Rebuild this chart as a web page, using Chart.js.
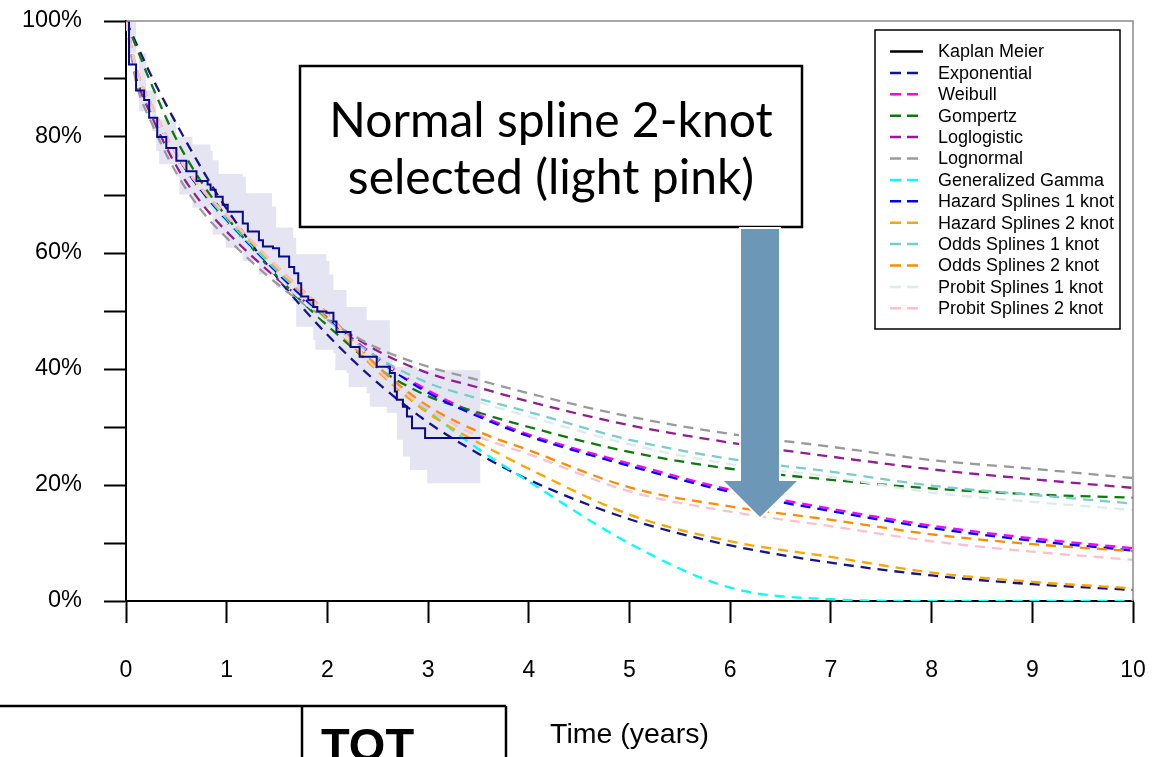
<!DOCTYPE html>
<html>
<head>
<meta charset="utf-8">
<script src="https://cdn.jsdelivr.net/npm/chart.js@4.4.1/dist/chart.umd.min.js"></script>
<style>
  html, body { margin: 0; padding: 0; background: #fff; overflow: hidden; }
  canvas { display: block; }
</style>
</head>
<body>
<canvas id="survChart" width="1165" height="757"></canvas>
<script>
// Time grid (years) for the fitted curves
const timePoints = [0, 0.1, 0.25, 0.5, 0.75, 1, 1.5, 2, 2.5, 3, 3.5, 4, 5, 6, 7, 8, 9, 10];

// Fitted survival (%)
const exponential = [100, 96.2, 90.6, 82.3, 74.6, 67.6, 55.8, 45.9, 37.6, 30.8, 25.4, 20.9, 14.1, 9.6, 6.6, 4.4, 2.9, 1.9];
const weibull     = [100, 91.5, 85.0, 76.6, 70.6, 65.5, 56.6, 48.9, 41.9, 36.3, 32.1, 28.7, 23.7, 19.2, 15.9, 13.0, 10.8, 9.1];
const gompertz    = [100, 95.6, 89.2, 79.6, 72.2, 66.2, 56.0, 47.5, 40.2, 35.3, 32.5, 30.0, 25.7, 22.8, 20.9, 19.4, 18.4, 17.8];
const loglogistic = [100, 90.5, 83.8, 75.0, 68.6, 63.7, 55.6, 48.7, 43.1, 39.3, 36.8, 34.4, 30.3, 27.3, 24.9, 22.7, 21.0, 19.5];
const lognormal   = [100, 89.5, 82.6, 73.8, 67.3, 62.6, 54.7, 48.5, 43.6, 40.4, 38.1, 35.8, 31.8, 28.8, 26.6, 24.3, 22.8, 21.2];
const genGamma    = [100, 91.8, 85.2, 76.8, 70.6, 65.6, 56.9, 48.8, 40.5, 32.8, 26.2, 20.6, 9.9, 2.3, 0.3, 0, 0, 0];
const hazard1     = [100, 91.5, 85.0, 76.4, 70.4, 65.3, 56.4, 48.7, 41.6, 35.9, 31.8, 28.4, 23.3, 18.8, 15.5, 12.6, 10.4, 8.7];
const hazard2     = [100, 92.0, 85.5, 77.0, 71.0, 66.3, 57.3, 48.6, 39.6, 32.4, 27.3, 22.8, 14.9, 10.3, 7.6, 4.9, 3.3, 2.2];
const odds1       = [100, 91.6, 85.0, 76.2, 70.1, 65.1, 56.1, 48.2, 42.0, 37.6, 34.9, 32.6, 27.8, 24.5, 22.3, 19.9, 18.3, 16.8];
const odds2       = [100, 92.0, 85.6, 77.1, 71.1, 66.5, 57.6, 49.6, 40.4, 33.6, 29.2, 26.0, 19.6, 16.3, 14.0, 11.5, 9.8, 8.6];
const probit1     = [100, 91.6, 85.0, 76.2, 70.0, 65.0, 56.0, 48.0, 41.5, 37.0, 34.3, 31.8, 27.0, 23.6, 21.4, 18.7, 17.1, 15.7];
const probit2     = [100, 92.0, 85.6, 77.1, 71.1, 66.5, 57.6, 49.4, 39.9, 33.1, 28.4, 25.3, 18.9, 15.4, 12.9, 10.3, 8.5, 7.1];

// Kaplan Meier steps (time, survival %)
const kmTimes = [0, 0.03, 0.10, 0.18, 0.23, 0.31, 0.40, 0.50, 0.60, 0.70, 0.81, 0.84, 0.89, 0.96, 1.01, 1.16, 1.21, 1.32, 1.36, 1.46, 1.52, 1.62, 1.67, 1.71, 1.74, 1.81, 1.86, 1.90, 1.99, 2.06, 2.09, 2.23, 2.32, 2.49, 2.62, 2.67, 2.69, 2.75, 2.79, 2.84, 2.97, 3.52];
const kmSurv  = [100, 92.5, 88.0, 86.4, 83.3, 80.0, 78.1, 75.9, 74.1, 72.4, 71.8, 70.9, 69.7, 68.3, 67.1, 65.1, 63.7, 62.2, 61.1, 60.8, 59.4, 57.6, 56.5, 54.8, 52.5, 51.9, 50.7, 49.9, 49.7, 48.2, 46.4, 43.8, 42.1, 40.4, 39.3, 36.1, 34.7, 33.5, 31.8, 29.8, 28.1, 28.1];

// Confidence band around KM
const ciUpperTimes = [0, 0.10, 0.20, 0.30, 0.50, 0.66, 0.84, 0.86, 0.92, 1.16, 1.19, 1.45, 1.49, 1.66, 1.69, 1.99, 2.02, 2.06, 2.19, 2.39, 2.62, 2.65, 2.89, 3.52];
const ciUpper      = [100, 94.4, 88, 83, 80, 78.7, 77.6, 76, 73.6, 73.2, 70.3, 68, 64.4, 62.6, 59.8, 58.6, 56.3, 53.6, 50.7, 48.4, 42.7, 40.4, 39.8, 39.8];
const ciLowerTimes = [0, 0.03, 0.13, 0.26, 0.30, 0.33, 0.50, 0.53, 0.66, 0.86, 0.99, 1.16, 1.32, 1.49, 1.65, 1.69, 1.86, 1.88, 2.06, 2.08, 2.19, 2.21, 2.39, 2.42, 2.59, 2.69, 2.75, 2.82, 2.99, 3.52];
const ciLower      = [100, 94.4, 84.5, 81, 77.6, 75.3, 73.2, 70.1, 67.8, 63.2, 60.9, 58.6, 56.3, 54, 51.7, 47.3, 45, 43.3, 42.7, 39.8, 39.3, 36.9, 35.8, 33.5, 32.4, 27.8, 24.9, 22.6, 20.3, 20];

const seriesNames = ['Kaplan Meier', 'Exponential', 'Weibull', 'Gompertz', 'Loglogistic', 'Lognormal',
  'Generalized Gamma', 'Hazard Splines 1 knot', 'Hazard Splines 2 knot', 'Odds Splines 1 knot',
  'Odds Splines 2 knot', 'Probit Splines 1 knot', 'Probit Splines 2 knot'];
const seriesValues = [null, exponential, weibull, gompertz, loglogistic, lognormal, genGamma,
  hazard1, hazard2, odds1, odds2, probit1, probit2];
const seriesColors = ['#000000', '#14148c', '#ff00ff', '#0f780f', '#941c94', '#9a9a9a', '#00ffff',
  '#0000ff', '#ffa500', '#79cdcd', '#ff8c00', '#dcebeb', '#ffc0cb'];

const FONT = '"Liberation Sans", Arial, sans-serif';

function toPoints(xs, ys) {
  return xs.map((x, i) => ({ x: x, y: ys[i] }));
}

const datasets = [];
datasets.push({
  label: 'Kaplan Meier',
  data: toPoints(kmTimes, kmSurv),
  borderColor: '#0a0a8a',
  borderWidth: 2,
  stepped: true,
  pointRadius: 0,
  fill: false
});
for (let i = seriesValues.length - 1; i >= 1; i--) {
  datasets.push({
    label: seriesNames[i],
    data: toPoints(timePoints, seriesValues[i]),
    borderColor: seriesColors[i],
    borderWidth: 2.3,
    borderDash: [10, 7],
    pointRadius: 0,
    cubicInterpolationMode: 'monotone',
    fill: false
  });
}
datasets.push({
  label: 'CI upper',
  data: toPoints(ciUpperTimes, ciUpper),
  borderWidth: 0,
  borderColor: 'rgba(0,0,0,0)',
  backgroundColor: '#e4e4f3',
  stepped: true,
  pointRadius: 0,
  fill: '+1'
});
datasets.push({
  label: 'CI lower',
  data: toPoints(ciLowerTimes, ciLower),
  borderWidth: 0,
  borderColor: 'rgba(0,0,0,0)',
  stepped: true,
  pointRadius: 0,
  fill: false
});

// Boxes, arrow and legend drawn on top of the plot
const decorations = {
  id: 'decorations',
  afterDraw(chart) {
    const ctx = chart.ctx;
    const a = chart.chartArea;
    ctx.save();

    // gray frame top and right
    ctx.strokeStyle = '#8c8c8c';
    ctx.lineWidth = 1.5;
    ctx.beginPath();
    ctx.moveTo(a.left, a.top);
    ctx.lineTo(a.right, a.top);
    ctx.lineTo(a.right, a.bottom);
    ctx.stroke();

    // legend
    ctx.fillStyle = '#fff';
    ctx.fillRect(875, 30, 245, 299);
    ctx.strokeStyle = '#000';
    ctx.lineWidth = 1.5;
    ctx.strokeRect(875, 30, 245, 299);
    ctx.font = '18px ' + FONT;
    ctx.textBaseline = 'middle';
    ctx.textAlign = 'left';
    seriesNames.forEach((name, i) => {
      const y = 51.5 + i * 21.4;
      ctx.strokeStyle = seriesColors[i];
      ctx.lineWidth = 2.5;
      ctx.setLineDash(i === 0 ? [] : [11, 6]);
      ctx.beginPath();
      ctx.moveTo(890, y);
      ctx.lineTo(i === 0 ? 923 : 919, y);
      ctx.stroke();
      ctx.setLineDash([]);
      ctx.fillStyle = '#000';
      ctx.fillText(name, 938, y + 1);
    });

    // annotation box
    ctx.fillStyle = '#fff';
    ctx.fillRect(300, 66, 502, 161);
    ctx.strokeStyle = '#000';
    ctx.lineWidth = 2.5;
    ctx.strokeRect(300, 66, 502, 161);
    ctx.fillStyle = '#000';
    ctx.font = '48px Lato, "Open Sans", sans-serif';
    ctx.textAlign = 'center';
    ctx.textBaseline = 'alphabetic';
    ctx.fillText('Normal spline 2-knot', 551, 137);
    ctx.fillText('selected (light pink)', 551, 194);

    // arrow
    ctx.beginPath();
    ctx.moveTo(741, 229);
    ctx.lineTo(779, 229);
    ctx.lineTo(779, 481);
    ctx.lineTo(797, 481);
    ctx.lineTo(760, 517);
    ctx.lineTo(724, 481);
    ctx.lineTo(741, 481);
    ctx.closePath();
    ctx.strokeStyle = '#fff';
    ctx.lineWidth = 4;
    ctx.stroke();
    ctx.fillStyle = '#6c97b7';
    ctx.fill();

    // bottom table fragment
    ctx.strokeStyle = '#000';
    ctx.lineWidth = 2.5;
    ctx.beginPath();
    ctx.moveTo(0, 706);
    ctx.lineTo(506, 706);
    ctx.moveTo(302, 706);
    ctx.lineTo(302, 757);
    ctx.moveTo(506, 706);
    ctx.lineTo(506, 757);
    ctx.stroke();
    ctx.fillStyle = '#000';
    ctx.font = 'bold 47px ' + FONT;
    ctx.textAlign = 'left';
    ctx.fillText('TOT', 321, 761);

    ctx.restore();
  }
};

const survChart = new Chart(document.getElementById('survChart'), {
  type: 'line',
  data: { datasets: datasets },
  options: {
    responsive: false,
    animation: false,
    devicePixelRatio: 1,
    layout: { padding: { top: 21, right: 32, left: 0, bottom: 0 } },
    plugins: {
      legend: { display: false },
      tooltip: { enabled: false }
    },
    scales: {
      x: {
        type: 'linear',
        min: 0,
        max: 10,
        ticks: { stepSize: 1, autoSkip: false, maxRotation: 0, padding: 34, color: '#000', font: { family: FONT, size: 23 } },
        grid: { drawOnChartArea: false, tickLength: 22, tickWidth: 2, tickColor: '#000' },
        border: { color: '#000', width: 2 },
        title: { display: true, text: 'Time (years)', color: '#000', font: { family: FONT, size: 28.5 }, padding: { top: 0, bottom: 5 } },
        afterFit: function (scale) {
          scale.height = 156;
          scale.paddingLeft = 0;
          scale.paddingRight = 0;
        }
      },
      y: {
        min: 0,
        max: 100,
        ticks: {
          stepSize: 10,
          autoSkip: false,
          padding: 22,
          color: '#000',
          font: { family: FONT, size: 23.5 },
          callback: v => (v % 20 === 0 ? v + '%' : '')
        },
        grid: { drawOnChartArea: false, tickLength: 22, tickWidth: 2, tickColor: '#000' },
        border: { color: '#000', width: 2 },
        afterFit: function (scale) {
          scale.width = 126;
          scale.paddingTop = 0;
          scale.paddingBottom = 0;
        }
      }
    }
  },
  plugins: [decorations]
});
</script>
</body>
</html>
